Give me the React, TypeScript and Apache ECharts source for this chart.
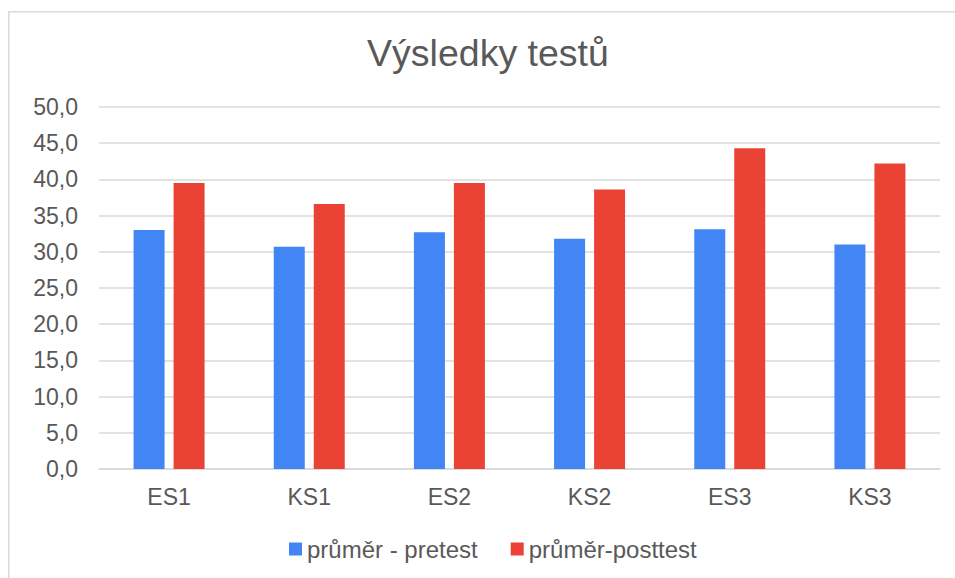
import React, { useEffect, useRef } from "react";
import * as echarts from "echarts";

const categories = ["ES1", "KS1", "ES2", "KS2", "ES3", "KS3"];
const pretest = [33.0, 30.7, 32.7, 31.8, 33.1, 31.0];
const posttest = [39.5, 36.6, 39.5, 38.6, 44.3, 42.2];
const seriesNames = ["průměr - pretest", "průměr-posttest"];
const titleText = "Výsledky testů";

const FONT = '"Liberation Sans", Arial, sans-serif';
const TEXT = "#595959";
const GRID = "#d9d9d9";

export default function App() {
  const ref = useRef<HTMLDivElement>(null);
  useEffect(() => {
    if (!ref.current) return;
    const chart = echarts.init(ref.current, null, { renderer: "svg" });
    chart.setOption({
      animation: false,
      backgroundColor: "#ffffff",
      textStyle: { fontFamily: FONT },
      graphic: [
        {
          type: "rect",
          shape: { x: 8.75, y: 11.75, width: 1000, height: 700 },
          style: { fill: "none", stroke: GRID, lineWidth: 1.5 },
          silent: true,
        },
        {
          type: "text",
          x: 488,
          y: 53,
          style: {
            text: titleText,
            font: `37.5px ${FONT}`,
            fill: TEXT,
            textAlign: "center",
            textVerticalAlign: "middle",
          },
        },
      ],
      legend: {
        left: 289,
        top: 537,
        padding: 0,
        itemWidth: 13,
        itemHeight: 13,
        itemGap: 33,
        icon: "rect",
        textStyle: { fontSize: 24, color: TEXT, fontFamily: FONT },
        data: seriesNames,
      },
      grid: { left: 99, right: 15, top: 107, bottom: 109, containLabel: false },
      xAxis: {
        type: "category",
        data: categories,
        axisTick: { show: false },
        axisLine: { lineStyle: { color: GRID, width: 1.5 } },
        axisLabel: { fontSize: 23, color: TEXT, margin: 16, fontFamily: FONT },
      },
      yAxis: {
        type: "value",
        min: 0,
        max: 50,
        interval: 5,
        axisLine: { show: false },
        axisTick: { show: false },
        splitLine: { lineStyle: { color: GRID, width: 1.5 } },
        axisLabel: {
          fontSize: 23,
          color: TEXT,
          margin: 21,
          fontFamily: FONT,
          formatter: (v: number) => v.toFixed(1).replace(".", ","),
        },
      },
      series: [
        {
          name: seriesNames[0],
          type: "bar",
          data: pretest,
          barWidth: 31,
          barGap: "29%",
          itemStyle: { color: "#4285F4" },
        },
        {
          name: seriesNames[1],
          type: "bar",
          data: posttest,
          barWidth: 31,
          barGap: "29%",
          itemStyle: { color: "#EA4335" },
        },
      ],
    });
    return () => chart.dispose();
  }, []);
  return (
    <div
      ref={ref}
      style={{ position: "fixed", left: 0, top: 0, width: 955, height: 578 }}
    />
  );
}
